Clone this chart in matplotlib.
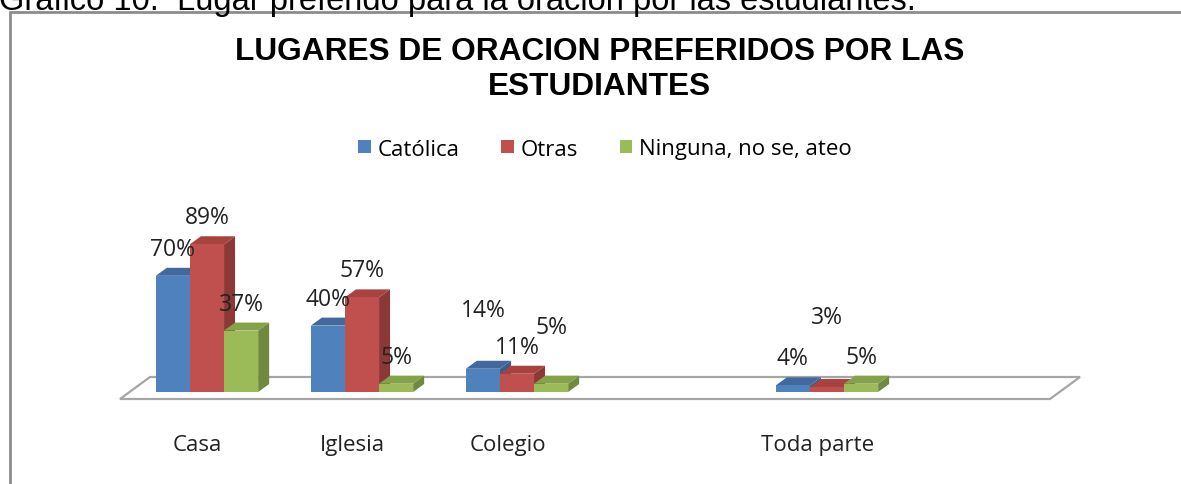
import matplotlib.pyplot as plt
from matplotlib.patches import Polygon, Rectangle, Patch

categories = ['Casa', 'Iglesia', 'Colegio', '', 'Toda parte', '']
series = ['Católica', 'Otras', 'Ninguna, no se, ateo']
catolica = [70, 40, 14, None, 4, None]
otras = [89, 57, 11, None, 3, None]
ninguna = [37, 5, 5, None, 5, None]
values = [catolica, otras, ninguna]
# extra lift of some data labels (Excel moved them to avoid overlaps)
label_lift = [[0, 0, 19, 0, 0, 0],
              [0, 0, 0, 0, 26, 0],
              [0, 0, 18, 0, 0, 0]]

face = ['#4F81BD', '#C0504D', '#9BBB59']
side = ['#385D8A', '#8C3836', '#71893F']
top = ['#41699E', '#A8423F', '#84A24A']

W, H = 1181, 485
fig = plt.figure(figsize=(W / 100, H / 100), dpi=100)
ax = fig.add_axes([0, 0, 1, 1])
px_x, px_y = 155.0, 1.66        # pixels per category / per percent
ox, oy = 129.5, 393.0           # pixel of data origin (from top-left)
ax.set_xlim(-ox / px_x, (W - ox) / px_x)
ax.set_ylim(-(H - oy) / px_y, oy / px_y)
ax.axis('off')

# 3d depth of bars and floor
dx, dy = 11 / px_x, 8 / px_y
fx0, fy0 = -9.5 / px_x, -7 / px_y
fx1, fy1 = 20.5 / px_x, 15 / px_y
n = len(categories)
floor = [(fx0, fy0), (n + fx0, fy0), (n + fx1, fy1), (fx1, fy1)]
ax.add_patch(Polygon(floor, closed=True, fc='white', ec='#a6a6a6', lw=1.6, zorder=1))

bw = 0.22
start = 0.17
for i in range(n):
    for s in range(3):
        v = values[s][i]
        if v is None:
            continue
        x = i + start + s * bw
        ax.add_patch(Polygon([(x + bw, 0), (x + bw + dx, dy), (x + bw + dx, v + dy), (x + bw, v)],
                             fc=side[s], ec='none', zorder=2))
        ax.add_patch(Polygon([(x, v), (x + dx, v + dy), (x + bw + dx, v + dy), (x + bw, v)],
                             fc=top[s], ec='none', zorder=2))
        ax.add_patch(Rectangle((x, 0), bw, v, fc=face[s], ec='none', zorder=2))
        ax.text(x + bw / 2, v + dy + 19 / px_y + label_lift[s][i], f'{v}%',
                ha='center', va='center', fontsize=16.5, family='Open Sans', color='#222222', zorder=5)

for i, c in enumerate(categories):
    ax.text(i + 0.5 + fx0, -31.5, c, ha='center', va='center', fontsize=16,
            family='Open Sans', color='#222222')

ax.text(3.035, 195, 'LUGARES DE ORACION PREFERIDOS POR LAS\nESTUDIANTES', ha='center', va='center',
        fontsize=22.8, fontweight='bold', family='Liberation Sans', linespacing=1.2)

handles = [Patch(fc=face[s], ec='none') for s in range(3)]
fig.legend(handles, series, loc='center', bbox_to_anchor=(605 / W, 1 - 150 / H), ncol=3,
           frameon=False, handlelength=0.55, handleheight=0.55, handletextpad=0.3,
           columnspacing=1.9, prop={'family': 'Open Sans', 'size': 16})

fig.add_artist(Rectangle((10 / W, -0.1), 1.2, (H - 12.5) / H + 0.1, transform=fig.transFigure,
                         fill=False, ec='#8c8c8c', lw=2))
fig.text(-1 / W, 1 - 10 / H, 'Gráfico 10.  Lugar preferido para la oración por las estudiantes.',
         fontsize=23.5, family='Liberation Sans', va='baseline', ha='left')

fig.savefig('out.png', dpi=100)
